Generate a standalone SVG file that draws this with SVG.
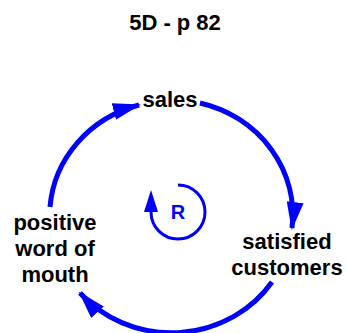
<svg xmlns="http://www.w3.org/2000/svg" width="347" height="333" viewBox="0 0 347 333">
  <style>
    .lbl { font-family: "Liberation Sans", Arial, sans-serif; font-weight: bold; font-size: 22px; fill: #000; text-anchor: middle; }
    .title { font-family: "Liberation Sans", Arial, sans-serif; font-weight: bold; font-size: 22px; fill: #000; text-anchor: middle; }
    .link { fill: none; stroke: #0000ff; stroke-width: 5; }
    .loop { fill: none; stroke: #0000ff; stroke-width: 3; }
    .r { font-family: "Liberation Sans", Arial, sans-serif; font-weight: bold; font-size: 20px; fill: #0000ff; text-anchor: middle; }
  </style>
  <defs>
    <marker id="arrow" markerUnits="userSpaceOnUse" markerWidth="28" markerHeight="17" viewBox="0 0 28 17" refX="26" refY="8.5" orient="auto">
      <path d="M0,0 L28,8.5 L0,17 z" fill="#0000ff"/>
    </marker>
    <marker id="arrowSmall" markerUnits="userSpaceOnUse" markerWidth="22" markerHeight="14" viewBox="0 0 22 14" refX="0" refY="7" orient="auto">
      <path d="M0,0 L22,7 L0,14 z" fill="#0000ff"/>
    </marker>
  </defs>
  <rect width="347" height="333" fill="#ffffff"/>
  <text class="title" x="175" y="30">5D - p 82</text>
  <g id="connectors">
    <path class="link" d="M50,207 A121,115 0 0 1 139,105" marker-end="url(#arrow)"/>
    <path class="link" d="M200,103 A121,115 0 0 1 292,228" marker-end="url(#arrow)"/>
    <path class="link" d="M272,282 A121,115 0 0 1 80,293" marker-end="url(#arrow)"/>
  </g>
  <g id="loop">
    <path class="loop" d="M178,185 A27,27 0 1 1 151,212" marker-end="url(#arrowSmall)"/>
    <text class="r" x="178" y="219">R</text>
  </g>
  <g id="sales">
    <text class="lbl" x="170" y="107">sales</text>
  </g>
  <g id="satisfied-customers">
    <text class="lbl" x="287" y="249">satisfied</text>
    <text class="lbl" x="287" y="275">customers</text>
  </g>
  <g id="positive-word-of-mouth">
    <text class="lbl" x="55" y="230">positive</text>
    <text class="lbl" x="55" y="256">word of</text>
    <text class="lbl" x="55" y="282">mouth</text>
  </g>
</svg>
